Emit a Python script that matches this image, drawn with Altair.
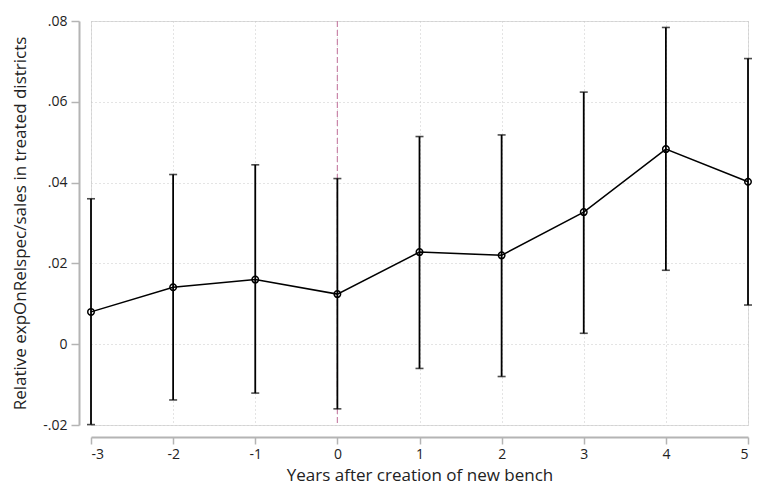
import altair as alt
import pandas as pd

years = [-3, -2, -1, 0, 1, 2, 3, 4, 5]
coef = [0.0080, 0.0141, 0.0160, 0.0124, 0.0228, 0.0220, 0.0327, 0.0483, 0.0402]
lower = [-0.0199, -0.0138, -0.0121, -0.0160, -0.0060, -0.0080, 0.0027, 0.0183, 0.0097]
upper = [0.0360, 0.0420, 0.0444, 0.0410, 0.0514, 0.0518, 0.0624, 0.0784, 0.0707]

x_ticks = [-3, -2, -1, 0, 1, 2, 3, 4, 5]
y_ticks = [-0.02, 0.0, 0.02, 0.04, 0.06, 0.08]

df = pd.DataFrame({"year": years, "coef": coef, "lower": lower, "upper": upper})

FONT = "Open Sans"
AX = "#b4b4b4"
x_scale = alt.Scale(domain=[-3, 5], nice=False, zero=False)
y_scale = alt.Scale(domain=[-0.02, 0.08], nice=False, zero=False)

x_axis = alt.Axis(
    values=x_ticks, labelExpr="'' + datum.value",
    title="Years after creation of new bench",
    offset=12, grid=True, gridColor="#c8c8c8", gridDash=[1, 3], gridWidth=1,
    domainColor=AX, domainWidth=2, tickColor=AX, tickWidth=1.5, tickSize=7,
    labelPadding=3, titlePadding=6, labelFontSize=14, titleFontSize=17,
    labelFont=FONT, titleFont=FONT, labelColor="#222", titleColor="#222",
    titleFontWeight="normal",
)
y_axis = alt.Axis(
    values=y_ticks,
    labelExpr="datum.value == 0 ? '0' : replace('' + datum.value, '0.', '.')",
    title="Relative expOnRelspec/sales in treated districts",
    offset=12, grid=True, gridColor="#c8c8c8", gridDash=[1, 3], gridWidth=1,
    domainColor=AX, domainWidth=2, tickColor=AX, tickWidth=1.5, tickSize=8,
    labelPadding=4, titlePadding=13, labelFontSize=14, titleFontSize=17,
    labelFont=FONT, titleFont=FONT, labelColor="#222", titleColor="#222",
    titleFontWeight="normal",
)

base = alt.Chart(df)

vline = base.mark_rule(color="#c985a8", strokeDash=[6, 3], strokeWidth=1.2).encode(
    x=alt.X("year:Q", scale=x_scale, axis=x_axis)
).transform_filter("datum.year == 0")

bars = base.mark_rule(color="black", strokeWidth=1.8).encode(
    x=alt.X("year:Q"),
    y=alt.Y("lower:Q", scale=y_scale, axis=y_axis),
    y2="upper:Q",
)
cap_lo = base.mark_tick(color="black", orient="horizontal", size=8, thickness=1.6).encode(
    x="year:Q", y="lower:Q"
)
cap_hi = base.mark_tick(color="black", orient="horizontal", size=8, thickness=1.6).encode(
    x="year:Q", y="upper:Q"
)
line = base.mark_line(color="black", strokeWidth=1.5).encode(x="year:Q", y="coef:Q")
pts = base.mark_point(shape="circle", filled=False, color="black", size=42, strokeWidth=1.5, opacity=1).encode(
    x="year:Q", y="coef:Q"
)

chart = alt.layer(vline, bars, cap_lo, cap_hi, line, pts).properties(
    width=748, height=478,
    autosize=alt.AutoSizeParams(type="fit", contains="padding"),
    padding={"left": 3, "top": 6, "right": 1, "bottom": 3},
).configure_view(stroke=None).configure(background="white")

chart.save("out.html", embed_options={"renderer": "svg", "actions": False})
